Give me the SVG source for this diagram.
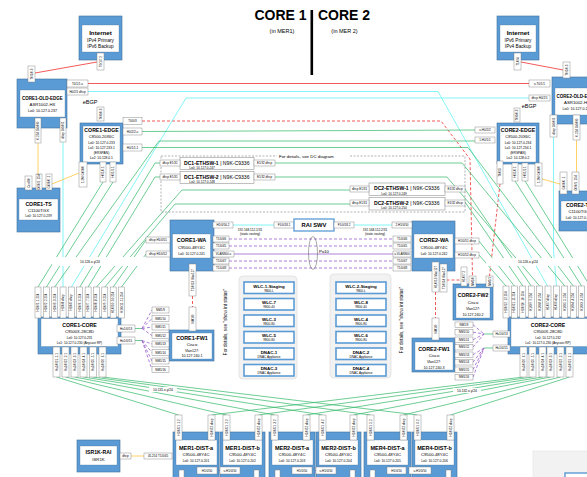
<svg xmlns="http://www.w3.org/2000/svg" width="587" height="477" viewBox="0 0 587 477">
<style>
.nb{fill:#5b9bd5;stroke:#41719c;stroke-width:.6}
.ni{fill:#fff;stroke:#41719c;stroke-width:.3}
.p{fill:#fff;stroke:#808080;stroke-width:.45}
.tn{font:bold 5.2px "Liberation Sans",Arial,sans-serif;text-anchor:middle;fill:#000}
.ts{font:4.3px "Liberation Sans",Arial,sans-serif;text-anchor:middle;fill:#000}
.tl{font:3.6px "Liberation Sans",Arial,sans-serif;text-anchor:middle;fill:#000}
.pt{font:3px "Liberation Sans",Arial,sans-serif;text-anchor:middle;dominant-baseline:central;fill:#000}
.g{stroke:#2fb866;stroke-width:.7;fill:none}
.c{stroke:#66f2f2;stroke-width:.8;fill:none}
.r{stroke:#f03030;stroke-width:.8;fill:none}
.rd{stroke:#f03030;stroke-width:.8;fill:none;stroke-dasharray:3 2}
.o{stroke:#ffcc55;stroke-width:.9;fill:none}
.pu{stroke:#9b5fcf;stroke-width:.8;fill:none}
.pd{stroke:#9b5fcf;stroke-width:.8;fill:none;stroke-dasharray:3 2}
.wb{fill:#fff;stroke:#5b9bd5;stroke-width:1.6}
.wn{font:bold 4.4px "Liberation Sans",Arial,sans-serif;text-anchor:middle}
.ws{font:3.1px "Liberation Sans",Arial,sans-serif;text-anchor:middle}
.dc{fill:#fff;stroke:#808080;stroke-width:.5}
.dt{font:5.1px "Liberation Sans",Arial,sans-serif}
</style>

<g id="title">
<text x="280.5" y="20" style="font:bold 14px 'Liberation Sans',Arial,sans-serif;text-anchor:middle">CORE 1</text>
<text x="344" y="20" style="font:bold 14px 'Liberation Sans',Arial,sans-serif;text-anchor:middle">CORE 2</text>
<rect x="310.5" y="10" width="2.6" height="65" fill="#000"/>
<text x="282" y="33" style="font:5.5px 'Liberation Sans',Arial,sans-serif;text-anchor:middle">(in MER1)</text>
<text x="344.5" y="33" style="font:5.5px 'Liberation Sans',Arial,sans-serif;text-anchor:middle">(in MER 2)</text>
</g>

<g id="connectors">
<path class="r" d="M35,73 L97,62"/>
<path class="r" d="M521,62 L563,70"/>
<path class="r" d="M88,83.5 H529"/>
<path class="rd" d="M142,121 H441 L470,159 L472.5,276"/>
<path class="rd" d="M500,184 L489.5,276"/>
<path class="rd" d="M192.5,296 V307"/>
<path class="rd" d="M435.5,292 V318"/>
<path class="rd" d="M446.5,280 H461"/>
<path class="c" d="M88,91.5 H438 L548,287"/>
<path class="c" d="M529,98 H186 L71.4,287"/>
<path class="c" d="M63,142 V287"/>
<path class="c" d="M553.5,137 V250 L556.4,286"/>
<path class="c" d="M233,225 H274"/>
<path class="c" d="M354,225 H392"/>
<path class="o" d="M38,143 V174"/>
<path class="o" d="M52,184 L79,173"/>
<path class="o" d="M576.5,140 V172"/>
<path class="o" d="M542,179 L560,184"/>
<path class="o" d="M131,456 H144"/>
<path class="g" d="M142,131.5 L475,130"/>
<path class="g" d="M54.7,287 L159,141 H475"/>
<path class="g" d="M142,147.5 H468 L573.2,286"/>
<path class="g" d="M79.8,287 L155,163 H160"/>
<path class="g" d="M88.1,287 L155,177 H160"/>
<path class="g" d="M96.5,287 L182,190 H350"/>
<path class="g" d="M104.8,287 L175,204 H350"/>
<path class="g" d="M113.2,287 L146,240"/>
<path class="g" d="M121.5,287 L146,254"/>
<path class="g" d="M103,182 L38,287"/>
<path class="g" d="M113,182 L46.4,287"/>
<path class="g" d="M275,163 H462 L564.8,286"/>
<path class="g" d="M275,177 H447 L539.6,286"/>
<path class="g" d="M465,189 L531.2,286"/>
<path class="g" d="M465,202 L522.8,286"/>
<path class="g" d="M479,241 L514.4,286"/>
<path class="g" d="M479,255 L506,286"/>
<path class="g" d="M515,181 L581.6,286"/>
<path class="g" d="M525,181 L590,286"/>
<path class="g" d="M56.5,377 L178.5,415 M65.5,377 L226.5,415 M74.5,377 L274.5,415 M83.5,377 L322.5,415 M93,377 L370.5,415 M102.5,377 L417.5,415"/>
<path class="g" d="M569.5,377 L450.5,415 M560.5,377 L403.5,415 M550.5,377 L353.5,415 M542.5,377 L306.5,415 M532.5,377 L258.5,415 M523.5,377 L211.5,415"/>
<path class="pd" d="M229,239 H393 M229,246 H393 M229,261 H393 M229,268 H393"/>
<path class="pu" d="M234,254 H393"/>
<path class="g" d="M135,328.5 H142 M135,340.5 H142"/>
<path class="pd" d="M142,328.5 L152,310 M142,328.5 L152,318.5 M142,328.5 L152,327 M142,328.5 L152,335.5 M142,340.5 L152,344 M142,340.5 L152,352.5 M142,340.5 L152,361 M142,340.5 L152,369.5"/>
<path class="g" d="M484,334 H493 M484,348 H493"/>
<path class="pd" d="M473,324.7 L484,334 M473,332.2 L484,334 M473,339.7 L484,334 M473,347.2 L484,334 M473,354.7 L484,348 M473,362.2 L484,348 M473,369.7 L484,348 M473,377.2 L484,348"/>
<path class="pu" d="M217,470.5 H220 M312,470.5 H316 M406,470.5 H409"/>
<ellipse cx="313" cy="253" rx="4.5" ry="16.5" fill="none" stroke="#555" stroke-width=".5"/>
</g>

<g id="labels">
<rect x="52" y="257" width="98" height="9" fill="#fff"/>
<text class="tl" x="90" y="263.3" style="font-size:3.3px">10.126.x.y/24</text>
<rect x="486" y="258" width="101" height="8" fill="#fff"/>
<text class="tl" x="528" y="263.3" style="font-size:3.3px">10.126.x.y/24</text>
<rect x="149" y="387" width="28" height="5" fill="#fff"/>
<text class="tl" x="163" y="391" style="font-size:3.3px">10.131.x.y/24</text>
<rect x="453" y="388" width="28" height="5" fill="#fff"/>
<text class="tl" x="467" y="392" style="font-size:3.3px">10.132.x.y/24</text>
<text class="ts" x="90" y="104" style="font-size:5.5px">eBGP</text>
<text class="ts" x="529" y="108" style="font-size:5.5px">eBGP</text>
<text class="tl" x="250" y="230.5" style="font-size:3.2px">192.168.112.1/31</text>
<text class="tl" x="250" y="235" style="font-size:3.2px">(static routing)</text>
<text class="tl" x="375" y="230.5" style="font-size:3.2px">192.168.112.2/31</text>
<text class="tl" x="375" y="235" style="font-size:3.2px">(static routing)</text>
<text class="tl" x="324" y="253" style="font-size:4.2px">Po10</text>
</g>

<g id="dc-area">
<rect x="161" y="156" width="304" height="56" fill="none" stroke="#808080" stroke-width=".6" stroke-dasharray="2 1.5"/>
<rect x="277" y="152" width="73" height="7" fill="#fff"/>
<text x="279" y="158" style="font:4.4px 'Liberation Sans',Arial,sans-serif">For details, see DC diagram</text>
</g>

<g id="dc1-ethsw-1">
<rect class="dc" x="180" y="157.5" width="74" height="12"/>
<text class="dt" x="184" y="164.5"><tspan font-weight="bold">DC1-ETHSW-1</tspan> | N9K-C9336</text>
<text class="tl" x="202" y="168.8" style="font-size:3.2px">Lo0: 10.127.0.247</text>
<rect class="p" x="160" y="160" width="20" height="6"/><text class="pt" x="170" y="163">dhcp E1/31</text>
<rect class="p" x="254" y="160" width="21" height="6"/><text class="pt" x="264.5" y="163">E1/32 dhcp</text>
</g>
<g id="dc1-ethsw-2">
<rect class="dc" x="180" y="171.5" width="74" height="12"/>
<text class="dt" x="184" y="178.5"><tspan font-weight="bold">DC1-ETHSW-2</tspan> | N9K-C9336</text>
<text class="tl" x="202" y="182.8" style="font-size:3.2px">Lo0: 10.127.0.248</text>
<rect class="p" x="160" y="174" width="20" height="6"/><text class="pt" x="170" y="177">dhcp E1/31</text>
<rect class="p" x="254" y="174" width="21" height="6"/><text class="pt" x="264.5" y="177">E1/32 dhcp</text>
</g>
<g id="dc2-ethsw-1">
<rect class="dc" x="369" y="183" width="76" height="12.5"/>
<text class="dt" x="374" y="190"><tspan font-weight="bold">DC2-ETHSW-1</tspan> | N9K-C9336</text>
<text class="tl" x="394" y="194.5" style="font-size:3.2px">Lo0: 10.127.0.249</text>
<rect class="p" x="350" y="186" width="19" height="6"/><text class="pt" x="359.5" y="189">dhcp E1/31</text>
<rect class="p" x="445" y="186" width="20" height="6"/><text class="pt" x="455" y="189">E1/32 dhcp</text>
</g>
<g id="dc2-ethsw-2">
<rect class="dc" x="369" y="197.5" width="76" height="12.5"/>
<text class="dt" x="374" y="204.5"><tspan font-weight="bold">DC2-ETHSW-2</tspan> | N9K-C9336</text>
<text class="tl" x="394" y="209" style="font-size:3.2px">Lo0: 10.127.0.250</text>
<rect class="p" x="350" y="200" width="19" height="6"/><text class="pt" x="359.5" y="203">dhcp E1/31</text>
<rect class="p" x="445" y="200" width="20" height="6"/><text class="pt" x="455" y="203">E1/32 dhcp</text>
</g>

<g id="internet-1">
<rect class="nb" x="79" y="16" width="43" height="44"/>
<rect class="ni" x="82" y="25" width="37" height="27"/>
<text class="tn" x="100.5" y="35" style="font-size:6.2px">Internet</text>
<text class="ts" x="100.5" y="41.5" style="font-size:4.7px">IPv4 Primary</text>
<text class="ts" x="100.5" y="47.5" style="font-size:4.7px">IPv6 Backup</text>
<rect class="p" x="97" y="53" width="7" height="17"/><text class="pt" transform="translate(100.5 61.5) rotate(-90)">T0/1/7.2</text>
</g>
<g id="internet-2">
<rect class="nb" x="497" y="16" width="42" height="44"/>
<rect class="ni" x="500" y="25" width="36" height="27"/>
<text class="tn" x="518" y="35" style="font-size:6.2px">Internet</text>
<text class="ts" x="518" y="41.5" style="font-size:4.7px">IPv6 Primary</text>
<text class="ts" x="518" y="47.5" style="font-size:4.7px">IPv4 Backup</text>
<rect class="p" x="514" y="53" width="7" height="17"/><text class="pt" transform="translate(517.5 61.5) rotate(-90)">T1/0/4</text>
</g>

<g id="core1-old-edge">
<rect class="nb" x="17" y="79" width="50" height="49"/>
<rect class="ni" x="20" y="90" width="45" height="27"/>
<text class="tn" x="42.5" y="100" style="font-size:4.5px">CORE1-OLD-EDGE</text>
<text class="ts" x="42.5" y="106">ASR1002-HX</text>
<text class="tl" x="42.5" y="112">Lo0: 10.127.0.237</text>
<rect class="p" x="28" y="66" width="7" height="16"/><text class="pt" transform="translate(31.5 74) rotate(-90)">T0/1/0.3</text>
<rect class="p" x="67" y="80" width="21" height="7"/><text class="pt" x="77.5" y="83.5">T0/1/1.u</text>
<rect class="p" x="67" y="88" width="21" height="7"/><text class="pt" x="77.5" y="91.5">H0/2/1 dhcp</text>
<rect class="p" x="35" y="118" width="6" height="25"/><text class="pt" transform="translate(38 130.5) rotate(-90)">0.254 Gi0/0/0</text>
<rect class="p" x="60" y="118" width="6" height="24"/><text class="pt" transform="translate(63 130) rotate(-90)">dhcp Gi0/0/1</text>
</g>

<g id="core2-old-edge">
<rect class="nb" x="552" y="77" width="50" height="47"/>
<rect class="ni" x="555" y="88" width="47" height="27"/>
<text class="tn" x="577" y="98" style="font-size:4.5px">CORE2-OLD-EDGE</text>
<text class="ts" x="577" y="104">ASR1002-HX</text>
<text class="tl" x="577" y="110">Lo0: 10.127.0.238</text>
<rect class="p" x="563" y="62" width="7" height="16"/><text class="pt" transform="translate(566.5 70) rotate(-90)">T0/1/0.3</text>
<rect class="p" x="529" y="80" width="21" height="7"/><text class="pt" x="539.5" y="83.5">u.T0/1/1</text>
<rect class="p" x="529" y="95" width="21" height="6"/><text class="pt" x="539.5" y="98">dhcp H0/2/1</text>
<rect class="p" x="550" y="115" width="7" height="22"/><text class="pt" transform="translate(553.5 126) rotate(-90)">dhcp Gi0/0/1</text>
<rect class="p" x="573" y="115" width="7" height="25"/><text class="pt" transform="translate(576.5 127.5) rotate(-90)">0.254 Gi0/0/0</text>
</g>

<g id="core1-edge">
<rect class="nb" x="80" y="123" width="43" height="41"/>
<rect class="ni" x="83" y="126" width="37" height="36"/>
<text class="tn" x="101.5" y="132">CORE1-EDGE</text>
<text class="ts" x="101.5" y="138.3" style="font-size:4px">C8500-20X6C</text>
<text class="tl" x="101.5" y="143.8" style="font-size:3.3px">Lo0: 10.127.0.233</text>
<text class="tl" x="101.5" y="149" style="font-size:3.3px">Lo1: 10.127.233.1</text>
<text class="tl" x="101.5" y="154" style="font-size:3.3px">(ERSPAN)</text>
<text class="tl" x="101.5" y="159.3" style="font-size:3.3px">Lo2: 10.128.0.1</text>
<rect class="p" x="97" y="107" width="7" height="14"/><text class="pt" transform="translate(100.5 114) rotate(-90)">T0/0/0.3</text>
<rect class="p" x="123" y="117.5" width="19" height="7"/><text class="pt" x="132.5" y="121">T0/0/3</text>
<rect class="p" x="123" y="128" width="19" height="7"/><text class="pt" x="132.5" y="131.5">H0/2/2.u</text>
<rect class="p" x="123" y="144" width="19" height="7"/><text class="pt" x="132.5" y="147.5">H0/1/1.1</text>
<rect class="p" x="79" y="162" width="8" height="25"/><text class="pt" transform="translate(83 174.5) rotate(-90)">1.2M Gi0/0/0</text>
<rect class="p" x="100" y="162" width="6" height="20"/><text class="pt" transform="translate(103 172) rotate(-90)">H0/1/0.1</text>
<rect class="p" x="110" y="162" width="6" height="20"/><text class="pt" transform="translate(113 172) rotate(-90)">H0/1/1.1</text>
</g>

<g id="core2-edge">
<rect class="nb" x="497" y="123" width="42" height="41"/>
<rect class="ni" x="500" y="126" width="36" height="36"/>
<text class="tn" x="518" y="132">CORE2-EDGE</text>
<text class="ts" x="518" y="138.3" style="font-size:4px">C8500-20X6C</text>
<text class="tl" x="518" y="143.8" style="font-size:3.3px">Lo0: 10.127.0.234</text>
<text class="tl" x="518" y="149" style="font-size:3.3px">Lo1: 10.127.234.1</text>
<text class="tl" x="518" y="154" style="font-size:3.3px">(ERSPAN)</text>
<text class="tl" x="518" y="159.3" style="font-size:3.3px">Lo2: 10.128.0.2</text>
<rect class="p" x="514" y="108" width="6" height="14"/><text class="pt" transform="translate(517 115) rotate(-90)">T0/0/0.3</text>
<rect class="p" x="475" y="127" width="20" height="6"/><text class="pt" x="485" y="130">u.H0/2/2</text>
<rect class="p" x="475" y="137" width="20" height="6"/><text class="pt" x="485" y="140">1.H0/1/1</text>
<rect class="p" x="497" y="161" width="6" height="23"/><text class="pt" transform="translate(500 172.5) rotate(-90)">T0/0/3</text>
<rect class="p" x="512" y="163" width="6" height="18"/><text class="pt" transform="translate(515 172) rotate(-90)">H0/1/0.1</text>
<rect class="p" x="522" y="163" width="6" height="18"/><text class="pt" transform="translate(525 172) rotate(-90)">H0/1/1.1</text>
<rect class="p" x="535" y="163" width="7" height="23"/><text class="pt" transform="translate(538.5 174.5) rotate(-90)">1.2M Gi0/0/0</text>
</g>

<g id="core1-ts">
<rect class="nb" x="17" y="188" width="43" height="44"/>
<rect class="ni" x="19" y="199" width="39" height="21"/>
<text class="tn" x="38.5" y="205.5">CORE1-TS</text>
<text class="ts" x="38.5" y="211.5">C1100TGX</text>
<text class="tl" x="38.5" y="217" style="font-size:3.3px">Lo0: 10.127.0.239</text>
<rect class="p" x="25" y="176" width="7" height="14"/><text class="pt" transform="translate(28.5 183) rotate(-90)">Con0/0</text>
<rect class="p" x="36" y="174" width="6" height="16"/><text class="pt" transform="translate(39 182) rotate(-90)">G0/0/1 .254</text>
<rect class="p" x="46" y="174" width="6" height="16"/><text class="pt" transform="translate(49 182) rotate(-90)">Gi0/0/0 .1</text>
</g>

<g id="core2-ts">
<rect class="nb" x="559" y="191" width="40" height="40"/>
<rect class="ni" x="561" y="201" width="32" height="20"/>
<text class="tn" x="579" y="207">CORE2-TS</text>
<text class="ts" x="579" y="213">C1100TGX</text>
<text class="tl" x="579" y="218.5" style="font-size:3.3px">Lo0: 10.127.0.240</text>
<rect class="p" x="560" y="172" width="7" height="22"/><text class="pt" transform="translate(563.5 183) rotate(-90)">Gi0/0/0 .1</text>
<rect class="p" x="572" y="172" width="7" height="22"/><text class="pt" transform="translate(575.5 183) rotate(-90)">G0/0/1 .254</text>
</g>

<g id="core1-wa">
<rect class="nb" x="170" y="220" width="44" height="51"/>
<rect class="ni" x="172.5" y="234" width="38" height="24"/>
<text class="tn" x="191.5" y="242" style="font-size:5.5px">CORE1-WA</text>
<text class="ts" x="191.5" y="248.5">C9500-48Y4C</text>
<text class="tl" x="191.5" y="254.5" style="font-size:3.3px">Lo0: 10.127.0.241</text>
<rect class="p" x="213" y="222" width="20" height="6"/><text class="pt" x="223" y="225">H1/0/50.2</text>
<rect class="p" x="213" y="236" width="16" height="6"/><text class="pt" x="221" y="239">T1/0/46</text>
<rect class="p" x="213" y="243" width="16" height="6"/><text class="pt" x="221" y="246">T1/0/45</text>
<rect class="p" x="213" y="251" width="21" height="6"/><text class="pt" x="223.5" y="254">VLAN800.u</text>
<rect class="p" x="213" y="258" width="16" height="6"/><text class="pt" x="221" y="261">T1/0/47</text>
<rect class="p" x="213" y="265" width="16" height="6"/><text class="pt" x="221" y="268">T1/0/48</text>
<rect class="p" x="146" y="237" width="24" height="6"/><text class="pt" x="158" y="240">dhcp H1/0/51</text>
<rect class="p" x="146" y="251" width="24" height="6"/><text class="pt" x="158" y="254">dhcp H1/0/52</text>
<rect class="p" x="189" y="264" width="7" height="32"/><text class="pt" transform="translate(192.5 280) rotate(-90)">T1/0/13 Vlan127</text>
</g>

<g id="rai-swv">
<rect class="p" x="274" y="222" width="20" height="6"/><text class="pt" x="284" y="225">F1/0/18.1</text>
<rect x="294" y="219" width="40" height="12" fill="#fff" stroke="#5b9bd5" stroke-width="1.3"/>
<text class="tn" x="314" y="227" style="font-size:5.8px">RAI SWV</text>
<rect class="p" x="334" y="222" width="20" height="6"/><text class="pt" x="344" y="225">F1/0/18.2</text>
</g>

<g id="core2-wa">
<rect class="nb" x="412" y="221" width="43" height="50"/>
<rect class="ni" x="414" y="234" width="39" height="24"/>
<text class="tn" x="434" y="242" style="font-size:5.5px">CORE2-WA</text>
<text class="ts" x="434" y="248.5">C9500-48Y4C</text>
<text class="tl" x="434" y="254.5" style="font-size:3.3px">Lo0: 10.127.0.242</text>
<rect class="p" x="392" y="222" width="20" height="6"/><text class="pt" x="402" y="225">2.H1/0/50</text>
<rect class="p" x="393" y="236" width="18" height="6"/><text class="pt" x="402" y="239">T1/0/46</text>
<rect class="p" x="393" y="243" width="18" height="6"/><text class="pt" x="402" y="246">T1/0/45</text>
<rect class="p" x="393" y="251" width="18" height="6"/><text class="pt" x="402" y="254">u.VLAN800</text>
<rect class="p" x="393" y="258" width="18" height="6"/><text class="pt" x="402" y="261">T1/0/47</text>
<rect class="p" x="393" y="265" width="18" height="6"/><text class="pt" x="402" y="268">T1/0/48</text>
<rect class="p" x="455" y="238" width="24" height="6"/><text class="pt" x="467" y="241">H1/0/51 dhcp</text>
<rect class="p" x="455" y="252" width="24" height="6"/><text class="pt" x="467" y="255">H1/0/52 dhcp</text>
<rect class="p" x="432" y="262" width="7" height="30"/><text class="pt" transform="translate(435.5 277) rotate(-90)">H1/0/13 Vlan127</text>
<rect class="p" x="440" y="264" width="7" height="28"/><text class="pt" transform="translate(443.5 278) rotate(-90)">T1/0/14 Vlan127</text>
</g>

<g id="wlc-panel-1">
<rect x="239" y="276" width="58" height="103" rx="4" fill="#f2f2f2" stroke="#d6d6d6" stroke-width=".6"/>
<rect class="wb" x="244" y="282" width="50" height="11.5"/><text class="wn" x="269" y="287.5">WLC-1-Staging</text><text class="ws" x="269" y="291.5">9800-L</text>
<rect class="wb" x="244" y="298.5" width="50" height="11.5"/><text class="wn" x="269" y="304">WLC-7</text><text class="ws" x="269" y="308">9800-40</text>
<rect class="wb" x="244" y="315" width="50" height="11.5"/><text class="wn" x="269" y="320.5">WLC-3</text><text class="ws" x="269" y="324.5">9800-80</text>
<rect class="wb" x="244" y="331.5" width="50" height="11.5"/><text class="wn" x="269" y="337">WLC-5</text><text class="ws" x="269" y="341">9800-80</text>
<rect class="wb" x="244" y="348" width="50" height="11.5"/><text class="wn" x="269" y="353.5">DNAC-1</text><text class="ws" x="269" y="357.5">DNAC Appliance</text>
<rect class="wb" x="244" y="364.5" width="50" height="11.5"/><text class="wn" x="269" y="370">DNAC-3</text><text class="ws" x="269" y="374">DNAC Appliance</text>
<text transform="translate(227 322) rotate(-90)" style="font:4.6px 'Liberation Sans',Arial,sans-serif;text-anchor:middle">For details, see "show int status"</text>
</g>

<g id="wlc-panel-2">
<rect x="330" y="274" width="61" height="104" rx="4" fill="#f2f2f2" stroke="#d6d6d6" stroke-width=".6"/>
<rect class="wb" x="336" y="282" width="50" height="11.5"/><text class="wn" x="361" y="287.5">WLC-2-Staging</text><text class="ws" x="361" y="291.5">9800-L</text>
<rect class="wb" x="336" y="298.5" width="50" height="11.5"/><text class="wn" x="361" y="304">WLC-8</text><text class="ws" x="361" y="308">9800-40</text>
<rect class="wb" x="336" y="315" width="50" height="11.5"/><text class="wn" x="361" y="320.5">WLC-4</text><text class="ws" x="361" y="324.5">9800-80</text>
<rect class="wb" x="336" y="331.5" width="50" height="11.5"/><text class="wn" x="361" y="337">WLC-6</text><text class="ws" x="361" y="341">9800-80</text>
<rect class="wb" x="336" y="348" width="50" height="11.5"/><text class="wn" x="361" y="353.5">DNAC-2</text><text class="ws" x="361" y="357.5">DNAC Appliance</text>
<rect class="wb" x="336" y="364.5" width="50" height="11.5"/><text class="wn" x="361" y="370">DNAC-4</text><text class="ws" x="361" y="374">DNAC Appliance</text>
<text transform="translate(403 320) rotate(-90)" style="font:4.6px 'Liberation Sans',Arial,sans-serif;text-anchor:middle">For details, see "show int status"</text>
</g>

<g id="core1-fw1">
<rect class="nb" x="169" y="330" width="45" height="31"/>
<rect class="ni" x="172" y="333" width="40" height="26"/>
<text class="tn" x="192" y="340" style="font-size:5.4px">CORE1-FW1</text>
<text class="ts" x="192" y="346">Cisco</text>
<text class="tl" x="192" y="351.5">Vlan127:</text>
<text class="tl" x="192" y="357">10.127.240.1</text>
<rect class="p" x="189" y="307" width="7" height="24"/><text class="pt" transform="translate(192.5 319) rotate(-90)">NM1/0</text>
<rect class="p" x="152" y="307" width="17" height="6"/><text class="pt" x="160.5" y="310">NM1/9</text>
<rect class="p" x="152" y="315.5" width="17" height="6"/><text class="pt" x="160.5" y="318.5">NM1/10</text>
<rect class="p" x="152" y="324" width="17" height="6"/><text class="pt" x="160.5" y="327">NM1/11</text>
<rect class="p" x="152" y="332.5" width="17" height="6"/><text class="pt" x="160.5" y="335.5">NM1/12</text>
<rect class="p" x="152" y="341" width="17" height="6"/><text class="pt" x="160.5" y="344">NM1/13</text>
<rect class="p" x="152" y="349.5" width="17" height="6"/><text class="pt" x="160.5" y="352.5">NM1/14</text>
<rect class="p" x="152" y="358" width="17" height="6"/><text class="pt" x="160.5" y="361">NM1/15</text>
<rect class="p" x="152" y="366.5" width="17" height="6"/><text class="pt" x="160.5" y="369.5">NM1/16</text>
</g>

<g id="core2-fw2">
<rect class="nb" x="453" y="284" width="40" height="36"/>
<rect class="ni" x="456" y="288" width="34" height="30"/>
<text class="tn" x="473" y="297" style="font-size:5.2px">CORE2-FW2</text>
<text class="ts" x="473" y="304">Cisco</text>
<text class="tl" x="473" y="310">Vlan127:</text>
<text class="tl" x="473" y="315.5">10.127.240.2</text>
<rect class="p" x="461" y="267" width="6" height="19"/><text class="pt" transform="translate(464 276.5) rotate(-90)">H1/0/7.2</text>
<rect class="p" x="469" y="276" width="7" height="11"/><text class="pt" transform="translate(472.5 281.5) rotate(-90)">NM1/0</text>
<rect class="p" x="486" y="276" width="7" height="11"/><text class="pt" transform="translate(489.5 281.5) rotate(-90)">NM1/1</text>
</g>

<g id="core2-fw1">
<rect class="nb" x="412" y="338" width="43" height="34"/>
<rect class="ni" x="415" y="342" width="38" height="28"/>
<text class="tn" x="434" y="351" style="font-size:5.4px">CORE2-FW1</text>
<text class="ts" x="434" y="357">Cisco</text>
<text class="tl" x="434" y="363">Vlan127:</text>
<text class="tl" x="434" y="368.5">10.127.240.3</text>
<rect class="p" x="432" y="318" width="7" height="22"/><text class="pt" transform="translate(435.5 329) rotate(-90)">NM1/0</text>
<rect class="p" x="455" y="322" width="18" height="5.5"/><text class="pt" x="464" y="324.7">NM1/9</text>
<rect class="p" x="455" y="329.5" width="18" height="5.5"/><text class="pt" x="464" y="332.2">NM1/10</text>
<rect class="p" x="455" y="337" width="18" height="5.5"/><text class="pt" x="464" y="339.7">NM1/11</text>
<rect class="p" x="455" y="344.5" width="18" height="5.5"/><text class="pt" x="464" y="347.2">NM1/12</text>
<rect class="p" x="455" y="352" width="18" height="5.5"/><text class="pt" x="464" y="354.7">NM1/13</text>
<rect class="p" x="455" y="359.5" width="18" height="5.5"/><text class="pt" x="464" y="362.2">NM1/14</text>
<rect class="p" x="455" y="367" width="18" height="5.5"/><text class="pt" x="464" y="369.7">NM1/15</text>
<rect class="p" x="455" y="374.5" width="18" height="5.5"/><text class="pt" x="464" y="377.2">NM1/16</text>
</g>

<g id="core1-core">
<rect class="nb" x="38" y="317" width="83" height="37"/>
<rect class="ni" x="41" y="318.5" width="77" height="28"/>
<text class="tn" x="79.5" y="326.5">CORE1-CORE</text>
<text class="ts" x="79.5" y="333" style="font-size:4.1px">C9500X-28C8D</text>
<text class="tl" x="79.5" y="338.5" style="font-size:3.2px">Lo0: 10.127.0.231</text>
<text class="tl" x="79.5" y="344" style="font-size:3.2px">Lo1: 10.127.0.230 (Anycast RP)</text>
<g>
<rect class="p" x="35" y="287" width="6" height="31"/><text class="pt" transform="translate(38 302.5) rotate(-90)">H1/0/1 .1.254</text>
<rect class="p" x="43.35" y="287" width="6" height="31"/><text class="pt" transform="translate(46.35 302.5) rotate(-90)">H1/0/2 .2.254</text>
<rect class="p" x="51.7" y="287" width="6" height="31"/><text class="pt" transform="translate(54.7 302.5) rotate(-90)">H1/0/3 .3.254</text>
<rect class="p" x="60.05" y="287" width="6" height="31"/><text class="pt" transform="translate(63.05 302.5) rotate(-90)">H1/0/4 dhcp</text>
<rect class="p" x="68.4" y="287" width="6" height="31"/><text class="pt" transform="translate(71.4 302.5) rotate(-90)">H1/0/5 dhcp</text>
<rect class="p" x="76.75" y="287" width="6" height="31"/><text class="pt" transform="translate(79.75 302.5) rotate(-90)">H1/0/6 .6.254</text>
<rect class="p" x="85.1" y="287" width="6" height="31"/><text class="pt" transform="translate(88.1 302.5) rotate(-90)">H1/0/7 .7.254</text>
<rect class="p" x="93.45" y="287" width="6" height="31"/><text class="pt" transform="translate(96.45 302.5) rotate(-90)">H1/0/8 .8.254</text>
<rect class="p" x="101.8" y="287" width="6" height="31"/><text class="pt" transform="translate(104.8 302.5) rotate(-90)">H1/0/9 .9.254</text>
<rect class="p" x="110.15" y="287" width="6" height="31"/><text class="pt" transform="translate(113.15 302.5) rotate(-90)">H1/0/10 .10.254</text>
<rect class="p" x="118.5" y="287" width="6" height="31"/><text class="pt" transform="translate(121.5 302.5) rotate(-90)">H1/0/11 .11.254</text>
</g>
<rect class="p" x="117" y="325" width="18" height="7"/><text class="pt" x="126" y="328.5">Hu1/0/13</text>
<rect class="p" x="117" y="337" width="18" height="7"/><text class="pt" x="126" y="340.5">Hu1/0/15</text>
<rect class="p" x="53" y="347" width="7" height="30"/><text class="pt" transform="translate(56.5 362) rotate(-90)">Hu1/0/21 .1.1</text>
<rect class="p" x="62" y="347" width="7" height="30"/><text class="pt" transform="translate(65.5 362) rotate(-90)">Hu1/0/22 .2.1</text>
<rect class="p" x="71" y="347" width="7" height="30"/><text class="pt" transform="translate(74.5 362) rotate(-90)">Hu1/0/23 .3.1</text>
<rect class="p" x="80" y="347" width="7" height="30"/><text class="pt" transform="translate(83.5 362) rotate(-90)">Hu1/0/24 .4.1</text>
<rect class="p" x="89.5" y="347" width="7" height="30"/><text class="pt" transform="translate(93 362) rotate(-90)">Hu1/0/25 .5.1</text>
<rect class="p" x="99" y="347" width="7" height="30"/><text class="pt" transform="translate(102.5 362) rotate(-90)">Hu1/0/26 .6.1</text>
</g>

<g id="core2-core">
<rect class="nb" x="508" y="317" width="85" height="37"/>
<rect class="ni" x="511" y="318.5" width="80" height="28"/>
<text class="tn" x="548" y="326.5">CORE2-CORE</text>
<text class="ts" x="548" y="333" style="font-size:4.1px">C9500X-28C8D</text>
<text class="tl" x="548" y="338.5" style="font-size:3.2px">Lo0: 10.127.0.232</text>
<text class="tl" x="548" y="344" style="font-size:3.2px">Lo1: 10.127.0.230 (Anycast RP)</text>
<g>
<rect class="p" x="503" y="286" width="6" height="32"/><text class="pt" transform="translate(506 302) rotate(-90)">H1/0/12 .12.254</text>
<rect class="p" x="511.4" y="286" width="6" height="32"/><text class="pt" transform="translate(514.4 302) rotate(-90)">H1/0/11 .11.254</text>
<rect class="p" x="519.8" y="286" width="6" height="32"/><text class="pt" transform="translate(522.8 302) rotate(-90)">H1/0/10 .10.254</text>
<rect class="p" x="528.2" y="286" width="6" height="32"/><text class="pt" transform="translate(531.2 302) rotate(-90)">H1/0/9 .9.254</text>
<rect class="p" x="536.6" y="286" width="6" height="32"/><text class="pt" transform="translate(539.6 302) rotate(-90)">H1/0/8 .8.254</text>
<rect class="p" x="545" y="286" width="6" height="32"/><text class="pt" transform="translate(548 302) rotate(-90)">H1/0/7 dhcp</text>
<rect class="p" x="553.4" y="286" width="6" height="32"/><text class="pt" transform="translate(556.4 302) rotate(-90)">H1/0/6 dhcp</text>
<rect class="p" x="561.8" y="286" width="6" height="32"/><text class="pt" transform="translate(564.8 302) rotate(-90)">H1/0/5 .5.254</text>
<rect class="p" x="570.2" y="286" width="6" height="32"/><text class="pt" transform="translate(573.2 302) rotate(-90)">H1/0/4 .4.254</text>
<rect class="p" x="578.6" y="286" width="6" height="32"/><text class="pt" transform="translate(581.6 302) rotate(-90)">H1/0/3 .3.254</text>
</g>
<rect class="p" x="493" y="331" width="17" height="6"/><text class="pt" x="501.5" y="334">Hu1/0/13</text>
<rect class="p" x="493" y="345" width="17" height="6"/><text class="pt" x="501.5" y="348">Hu1/0/15</text>
<rect class="p" x="520" y="347" width="7" height="30"/><text class="pt" transform="translate(523.5 362) rotate(-90)">Hu1/0/26 .6.1</text>
<rect class="p" x="529" y="347" width="7" height="30"/><text class="pt" transform="translate(532.5 362) rotate(-90)">Hu1/0/25 .5.1</text>
<rect class="p" x="539" y="347" width="7" height="30"/><text class="pt" transform="translate(542.5 362) rotate(-90)">Hu1/0/24 .4.1</text>
<rect class="p" x="547" y="347" width="7" height="30"/><text class="pt" transform="translate(550.5 362) rotate(-90)">Hu1/0/23 .3.1</text>
<rect class="p" x="557" y="347" width="7" height="30"/><text class="pt" transform="translate(560.5 362) rotate(-90)">Hu1/0/22 .2.1</text>
<rect class="p" x="566" y="347" width="7" height="30"/><text class="pt" transform="translate(569.5 362) rotate(-90)">Hu1/0/21 .1.1</text>
</g>

<g id="isr1k-rai">
<rect class="nb" x="77" y="440" width="43" height="32"/>
<rect class="ni" x="80" y="446" width="37" height="19"/>
<text class="tn" x="98.5" y="454">ISR1K-RAI</text>
<text class="ts" x="98.5" y="461">ISR1K</text>
<rect class="p" x="120" y="453" width="11" height="6"/><text class="pt" x="125.5" y="456">dhcp</text>
</g>

<g id="mer1-dist-a">
<rect class="nb" x="173" y="432" width="46" height="50"/>
<rect class="ni" x="176" y="440" width="41" height="25"/>
<text class="tn" x="196" y="449.5" style="font-size:5.5px">MER1-DIST-a</text>
<text class="ts" x="196" y="456">C9500-48Y4C</text>
<text class="tl" x="196" y="462" style="font-size:3.3px">Lo0: 10.127.0.201</text>
<rect class="p" x="175" y="415" width="7" height="25"/><text class="pt" transform="translate(178.5 427.5) rotate(-90)">H1/0/51 .1.2</text>
<rect class="p" x="208" y="415" width="7" height="25"/><text class="pt" transform="translate(211.5 427.5) rotate(-90)">H1/0/52 dhcp</text>
<rect class="p" x="144" y="453" width="28" height="6"/><text class="pt" x="158" y="456">45.254 T1/0/45</text>
<rect class="p" x="197" y="467" width="20" height="7"/><text class="pt" x="207" y="470.5">H1/0/50</text>
<rect class="p" x="179" y="470" width="5" height="9"/>
</g>
<g id="mer1-dist-b">
<rect class="nb" x="220" y="432" width="45" height="50"/>
<rect class="ni" x="223" y="440" width="39" height="25"/>
<text class="tn" x="242.5" y="449.5" style="font-size:5.5px">MER1-DIST-b</text>
<text class="ts" x="242.5" y="456">C9500-48Y4C</text>
<text class="tl" x="242.5" y="462" style="font-size:3.3px">Lo0: 10.127.0.202</text>
<rect class="p" x="223" y="415" width="7" height="25"/><text class="pt" transform="translate(226.5 427.5) rotate(-90)">H1/0/51 .2.2</text>
<rect class="p" x="255" y="415" width="7" height="25"/><text class="pt" transform="translate(258.5 427.5) rotate(-90)">H1/0/52 dhcp</text>
<rect class="p" x="220" y="467" width="20" height="7"/><text class="pt" x="230" y="470.5">u.H1/0/50</text>
<rect class="p" x="254" y="470" width="5" height="9"/>
</g>
<g id="mer2-dist-a">
<rect class="nb" x="269" y="432" width="46" height="50"/>
<rect class="ni" x="272" y="440" width="41" height="25"/>
<text class="tn" x="292" y="449.5" style="font-size:5.5px">MER2-DIST-a</text>
<text class="ts" x="292" y="456">C9500-48Y4C</text>
<text class="tl" x="292" y="462" style="font-size:3.3px">Lo0: 10.127.0.203</text>
<rect class="p" x="271" y="415" width="7" height="25"/><text class="pt" transform="translate(274.5 427.5) rotate(-90)">H1/0/51 .3.2</text>
<rect class="p" x="303" y="415" width="7" height="25"/><text class="pt" transform="translate(306.5 427.5) rotate(-90)">H1/0/52 dhcp</text>
<rect class="p" x="292" y="467" width="20" height="7"/><text class="pt" x="302" y="470.5">H1/0/50</text>
<rect class="p" x="275" y="470" width="5" height="9"/>
</g>
<g id="mer2-dist-b">
<rect class="nb" x="316" y="432" width="45" height="50"/>
<rect class="ni" x="319" y="440" width="39" height="25"/>
<text class="tn" x="338.5" y="449.5" style="font-size:5.5px">MER2-DIST-b</text>
<text class="ts" x="338.5" y="456">C9500-48Y4C</text>
<text class="tl" x="338.5" y="462" style="font-size:3.3px">Lo0: 10.127.0.204</text>
<rect class="p" x="319" y="415" width="7" height="25"/><text class="pt" transform="translate(322.5 427.5) rotate(-90)">H1/0/51 .4.2</text>
<rect class="p" x="350" y="415" width="7" height="25"/><text class="pt" transform="translate(353.5 427.5) rotate(-90)">H1/0/52 dhcp</text>
<rect class="p" x="316" y="467" width="20" height="7"/><text class="pt" x="326" y="470.5">u.H1/0/50</text>
<rect class="p" x="350" y="470" width="5" height="9"/>
</g>
<g id="mer4-dist-a">
<rect class="nb" x="364" y="432" width="47" height="50"/>
<rect class="ni" x="367" y="440" width="41" height="25"/>
<text class="tn" x="387.5" y="449.5" style="font-size:5.5px">MER4-DIST-a</text>
<text class="ts" x="387.5" y="456">C9500-48Y4C</text>
<text class="tl" x="387.5" y="462" style="font-size:3.3px">Lo0: 10.127.0.205</text>
<rect class="p" x="367" y="415" width="7" height="25"/><text class="pt" transform="translate(370.5 427.5) rotate(-90)">H1/0/51 .5.2</text>
<rect class="p" x="400" y="415" width="7" height="25"/><text class="pt" transform="translate(403.5 427.5) rotate(-90)">H1/0/52 dhcp</text>
<rect class="p" x="387" y="467" width="19" height="7"/><text class="pt" x="396.5" y="470.5">H1/0/50</text>
<rect class="p" x="370" y="470" width="5" height="9"/>
</g>
<g id="mer4-dist-b">
<rect class="nb" x="412" y="432" width="45" height="50"/>
<rect class="ni" x="415" y="440" width="39" height="25"/>
<text class="tn" x="434.5" y="449.5" style="font-size:5.5px">MER4-DIST-b</text>
<text class="ts" x="434.5" y="456">C9500-48Y4C</text>
<text class="tl" x="434.5" y="462" style="font-size:3.3px">Lo0: 10.127.0.206</text>
<rect class="p" x="414" y="415" width="7" height="25"/><text class="pt" transform="translate(417.5 427.5) rotate(-90)">H1/0/51 .6.2</text>
<rect class="p" x="447" y="415" width="7" height="25"/><text class="pt" transform="translate(450.5 427.5) rotate(-90)">H1/0/52 dhcp</text>
<rect class="p" x="409" y="467" width="22" height="7"/><text class="pt" x="420" y="470.5">u.H1/0/50</text>
<rect class="p" x="446" y="470" width="5" height="9"/>
</g>

<g id="bottom-right-panel">
<rect x="533" y="451" width="60" height="30" fill="#f2f2f2" stroke="#e0e0e0" stroke-width=".5"/>
<rect x="565" y="473" width="30" height="10" fill="#fff" stroke="#5b9bd5" stroke-width="1.4"/>
</g>
</svg>
